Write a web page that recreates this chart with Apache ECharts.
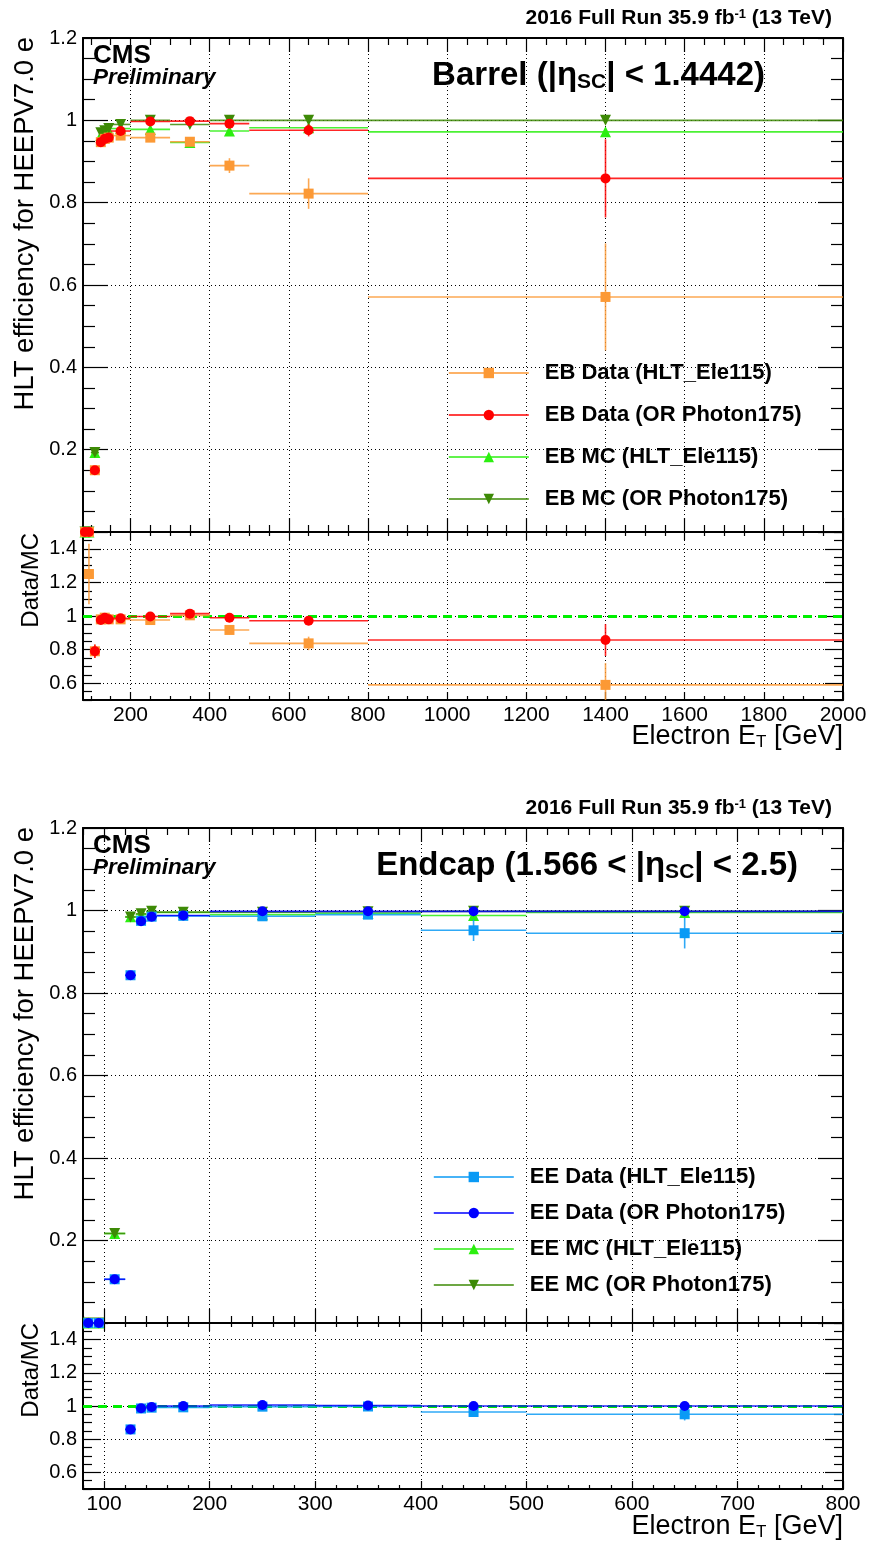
<!DOCTYPE html>
<html>
<head>
<meta charset="utf-8">
<script src="https://cdn.jsdelivr.net/npm/echarts@6/dist/echarts.min.js"></script>
<style>
  html, body { margin: 0; background: #fff; }
  #chart { width: 872px; height: 1541px; }
</style>
</head>
<body>
<div id="chart"></div>
<script>
// ---------------------------------------------------------------------------
// HLT efficiency for HEEP V7.0 electrons, barrel and endcap, data vs MC
// ---------------------------------------------------------------------------

// bin edges (GeV)
const ebLo = [80, 90, 100, 120, 130, 140, 150, 200, 300, 400, 500, 800];
const ebHi = [90, 100, 120, 130, 140, 150, 200, 300, 400, 500, 800, 2000];
const eeLo = [80, 90, 100, 120, 130, 140, 150, 200, 300, 400, 500];
const eeHi = [90, 100, 120, 130, 140, 150, 200, 300, 400, 500, 800];

// barrel efficiencies
const ebDataHlt    = [0, 0, 0.150, 0.947, 0.955, 0.958, 0.963, 0.958, 0.948, 0.890, 0.822, 0.571];
const ebDataHltErr = [0.004, 0.004, 0.010, 0.006, 0.006, 0.006, 0.004, 0.005, 0.008, 0.018, 0.037, 0.130];
const ebDataOr     = [0, 0, 0.150, 0.947, 0.955, 0.958, 0.974, 0.997, 0.998, 0.992, 0.976, 0.859];
const ebDataOrErr  = [0.004, 0.004, 0.010, 0.006, 0.006, 0.006, 0.004, 0.003, 0.004, 0.007, 0.015, 0.095];
const ebMcHlt      = [0, 0, 0.193, 0.963, 0.970, 0.975, 0.980, 0.978, 0.946, 0.974, 0.982, 0.972];
const ebMcHltErr   = [0.003, 0.003, 0.008, 0.004, 0.004, 0.004, 0.003, 0.004, 0.012, 0.006, 0.004, 0.004];
const ebMcOr       = [0, 0, 0.193, 0.970, 0.975, 0.980, 0.990, 1.000, 0.990, 1.000, 1.000, 1.000];
const ebMcOrErr    = [0.003, 0.003, 0.008, 0.004, 0.004, 0.004, 0.003, 0.002, 0.004, 0.002, 0.002, 0.002];

// barrel data/MC
const ebRatioHlt    = [null, 1.25, 0.79, 0.98, 0.99, 0.98, 0.98, 0.976, 1.004, 0.917, 0.837, 0.59];
const ebRatioHltErr = [0, 0.18, 0.04, 0.008, 0.008, 0.008, 0.005, 0.005, 0.010, 0.020, 0.040, 0.130];
const ebRatioOr     = [null, null, 0.79, 0.976, 0.99, 0.98, 0.986, 0.997, 1.014, 0.99, 0.972, 0.857];
const ebRatioOrErr  = [0, 0, 0.04, 0.008, 0.008, 0.008, 0.005, 0.004, 0.006, 0.008, 0.015, 0.095];

// endcap efficiencies
const eeDataHlt    = [0, 0, 0.106, 0.843, 0.975, 0.985, 0.987, 0.986, 0.990, 0.952, 0.945];
const eeDataHltErr = [0.004, 0.004, 0.008, 0.008, 0.006, 0.005, 0.004, 0.005, 0.006, 0.026, 0.037];
const eeDataOr     = [0, 0, 0.106, 0.843, 0.974, 0.985, 0.988, 0.998, 0.998, 0.998, 0.998];
const eeDataOrErr  = [0.004, 0.004, 0.008, 0.008, 0.006, 0.005, 0.004, 0.002, 0.002, 0.002, 0.002];
const eeMcHlt      = [0, 0, 0.217, 0.985, 0.990, 0.997, 0.995, 0.990, 0.993, 0.988, 0.995];
const eeMcHltErr   = [0.003, 0.003, 0.008, 0.004, 0.003, 0.003, 0.002, 0.003, 0.003, 0.004, 0.003];
const eeMcOr       = [0, 0, 0.217, 0.984, 0.992, 0.998, 0.996, 0.996, 0.997, 0.998, 0.998];
const eeMcOrErr    = [0.003, 0.003, 0.008, 0.004, 0.003, 0.002, 0.002, 0.002, 0.002, 0.002, 0.002];

// endcap data/MC
const eeRatioHlt    = [null, null, null, 0.859, 0.985, 0.990, 0.992, 0.996, 0.997, 0.964, 0.950];
const eeRatioHltErr = [0, 0, 0, 0.010, 0.007, 0.006, 0.005, 0.005, 0.006, 0.026, 0.037];
const eeRatioOr     = [null, null, null, 0.859, 0.986, 0.994, 1.000, 1.006, 1.003, 1.000, 1.000];
const eeRatioOrErr  = [0, 0, 0, 0.010, 0.007, 0.006, 0.005, 0.003, 0.003, 0.003, 0.003];

// axis ticks / labels
const ebXMajor = [200, 400, 600, 800, 1000, 1200, 1400, 1600, 1800, 2000];
const eeXMajor = [100, 200, 300, 400, 500, 600, 700, 800];
const effMajor = [0, 0.2, 0.4, 0.6, 0.8, 1, 1.2];
const effLabels = [0.2, 0.4, 0.6, 0.8, 1, 1.2];
const ratioMajor = [0.6, 0.8, 1, 1.2, 1.4];

const names = {
  eb: ['EB Data (HLT_Ele115)', 'EB Data (OR Photon175)', 'EB MC (HLT_Ele115)', 'EB MC (OR Photon175)'],
  ee: ['EE Data (HLT_Ele115)', 'EE Data (OR Photon175)', 'EE MC (HLT_Ele115)', 'EE MC (OR Photon175)'],
};

// ---------------------------------------------------------------------------
const FONT = '"Liberation Sans", Arial, Helvetica, sans-serif';
const DY = 790; // vertical offset of the endcap canvas

const col = {
  orange: '#fc9935',
  red: '#ff0000',
  lime: '#2cef10',
  dkgreen: '#3d8a06',
  azure: '#0a9af5',
  blue: '#0000ff',
};

function ticksBetween(min, max, step, skip) {
  const out = [];
  for (let v = min; v <= max + 1e-9; v += step) {
    const r = Math.round(v * 1000) / 1000;
    if (!skip.some((s) => Math.abs(s - r) < 1e-6)) out.push(r);
  }
  return out;
}

const chart = echarts.init(document.getElementById('chart'));

const grids = [
  { left: 83, right: 29, top: 38, height: 494 },          // barrel efficiency
  { left: 83, right: 29, top: 532, height: 168 },         // barrel ratio
  { left: 83, right: 29, top: 38 + DY, height: 495 },     // endcap efficiency
  { left: 83, right: 29, top: 1323, height: 166 },        // endcap ratio
];

const xAxis = [];
const yAxis = [];

// four axes per side pair: main major (with frame), main minor, opposite major, opposite minor
function addAxes(list, dim, g, min, max, major, minor, majLen, minLen, labels) {
  const pos = dim === 'x' ? ['bottom', 'top'] : ['left', 'right'];
  const base = { type: 'value', gridIndex: g, min, max };
  const labelStyle = {
    show: !!labels,
    customValues: labels || undefined,
    formatter: (v) => String(v),
    color: '#000',
    fontFamily: FONT,
    fontSize: dim === 'x' ? 21 : 20,
    margin: dim === 'x' ? 5 : 6,
  };
  const frameLine = { show: true, onZero: false, lineStyle: { color: '#000', width: 2 } };
  const tick = (len, vals) => ({ show: true, inside: true, length: len, customValues: vals, lineStyle: { color: '#000', width: 1.2 } });
  list.push(
    {
      ...base, position: pos[0], axisLine: frameLine, axisTick: tick(majLen, major), axisLabel: labelStyle,
      splitLine: { show: true, lineStyle: { color: '#000', width: 1, type: [1, 3] } },
    },
    { ...base, position: pos[0], axisLine: { show: false, onZero: false }, axisTick: tick(minLen, minor), axisLabel: { show: false }, splitLine: { show: false } },
    { ...base, position: pos[1], axisLine: frameLine, axisTick: tick(majLen, major), axisLabel: { show: false }, splitLine: { show: false } },
    { ...base, position: pos[1], axisLine: { show: false, onZero: false }, axisTick: tick(minLen, minor), axisLabel: { show: false }, splitLine: { show: false } },
  );
}

addAxes(xAxis, 'x', 0, 80, 2000, ebXMajor, ticksBetween(100, 2000, 50, ebXMajor), 14, 7, null);
addAxes(yAxis, 'y', 0, 0, 1.2, effMajor, ticksBetween(0, 1.2, 0.05, effMajor), 25, 12, effLabels);
addAxes(xAxis, 'x', 1, 80, 2000, ebXMajor, ticksBetween(100, 2000, 50, ebXMajor), 8, 4, ebXMajor);
addAxes(yAxis, 'y', 1, 0.5, 1.5, ratioMajor, ticksBetween(0.5, 1.5, 0.05, ratioMajor), 18, 9, ratioMajor);
addAxes(xAxis, 'x', 2, 80, 800, eeXMajor, ticksBetween(80, 800, 20, eeXMajor), 14, 7, null);
addAxes(yAxis, 'y', 2, 0, 1.2, effMajor, ticksBetween(0, 1.2, 0.05, effMajor), 25, 12, effLabels);
addAxes(xAxis, 'x', 3, 80, 800, eeXMajor, ticksBetween(80, 800, 20, eeXMajor), 8, 4, eeXMajor);
addAxes(yAxis, 'y', 3, 0.5, 1.5, ratioMajor, ticksBetween(0.5, 1.5, 0.05, ratioMajor), 18, 9, ratioMajor);

// horizontal (bin width) + vertical (stat) error bars
function renderErr(params, api) {
  const cs = params.coordSys;
  const cx = (x) => Math.max(cs.x, Math.min(cs.x + cs.width, x));
  const cy = (y) => Math.max(cs.y, Math.min(cs.y + cs.height, y));
  const y = api.value(3);
  const a = api.coord([api.value(0), y]);
  const b = api.coord([api.value(1), y]);
  const lo = api.coord([api.value(2), api.value(4)]);
  const hi = api.coord([api.value(2), api.value(5)]);
  const style = { stroke: api.visual('color'), lineWidth: 1.6, opacity: 0.85 };
  return {
    type: 'group',
    children: [
      { type: 'line', shape: { x1: cx(a[0]), y1: cy(a[1]), x2: cx(b[0]), y2: cy(b[1]) }, style },
      { type: 'line', shape: { x1: cx(lo[0]), y1: cy(lo[1]), x2: cx(hi[0]), y2: cy(hi[1]) }, style },
    ],
  };
}

const series = [];

function addSet(g, lo, hi, vals, errs, name, color, symbol, size, rotate, z) {
  const errData = [];
  const ptData = [];
  vals.forEach((v, i) => {
    if (v == null) return;
    const c = (lo[i] + hi[i]) / 2;
    errData.push([lo[i], hi[i], c, v, v - errs[i], v + errs[i]]);
    ptData.push([c, v]);
  });
  const ax = { xAxisIndex: 4 * g, yAxisIndex: 4 * g };
  series.push({
    type: 'custom', ...ax, z, silent: true, renderItem: renderErr,
    itemStyle: { color }, encode: { x: [0, 1], y: 3 }, data: errData,
  });
  const s = {
    type: 'line', ...ax, z: z + 1, name, silent: true, data: ptData,
    symbol, symbolSize: size, symbolRotate: rotate, showSymbol: true,
    itemStyle: { color, opacity: 1 }, lineStyle: { color, width: 0 },
  };
  series.push(s);
  return s;
}

// barrel
addSet(0, ebLo, ebHi, ebMcHlt, ebMcHltErr, names.eb[2], col.lime, 'triangle', 11, 0, 2);
addSet(0, ebLo, ebHi, ebMcOr, ebMcOrErr, names.eb[3], col.dkgreen, 'triangle', 11, 180, 4);
addSet(0, ebLo, ebHi, ebDataHlt, ebDataHltErr, names.eb[0], col.orange, 'rect', 10, 0, 6);
addSet(0, ebLo, ebHi, ebDataOr, ebDataOrErr, names.eb[1], col.red, 'circle', 10, 0, 8);
const ebRatioBase = addSet(1, ebLo, ebHi, ebRatioHlt, ebRatioHltErr, 'ebRatioHlt', col.orange, 'rect', 10, 0, 6);
addSet(1, ebLo, ebHi, ebRatioOr, ebRatioOrErr, 'ebRatioOr', col.red, 'circle', 10, 0, 8);

// endcap
addSet(2, eeLo, eeHi, eeMcHlt, eeMcHltErr, names.ee[2], col.lime, 'triangle', 11, 0, 2);
addSet(2, eeLo, eeHi, eeMcOr, eeMcOrErr, names.ee[3], col.dkgreen, 'triangle', 11, 180, 4);
addSet(2, eeLo, eeHi, eeDataHlt, eeDataHltErr, names.ee[0], col.azure, 'rect', 10, 0, 6);
addSet(2, eeLo, eeHi, eeDataOr, eeDataOrErr, names.ee[1], col.blue, 'circle', 10, 0, 8);
const eeRatioBase = addSet(3, eeLo, eeHi, eeRatioHlt, eeRatioHltErr, 'eeRatioHlt', col.azure, 'rect', 10, 0, 6);
addSet(3, eeLo, eeHi, eeRatioOr, eeRatioOrErr, 'eeRatioOr', col.blue, 'circle', 10, 0, 8);

// unity line in the ratio pads
[ebRatioBase, eeRatioBase].forEach((s) => {
  s.markLine = {
    silent: true, symbol: 'none', label: { show: false }, animation: false,
    lineStyle: { color: '#00f000', width: 3, type: [9, 6] },
    data: [{ yAxis: 1 }],
  };
});

function legendFor(list, left, top, gap) {
  return {
    data: list, orient: 'vertical', left, top, padding: 0,
    itemWidth: 80, itemHeight: 13, itemGap: gap,
    selectedMode: false,
    lineStyle: { width: 1.6, opacity: 1 },
    textStyle: { fontFamily: FONT, fontWeight: 'bold', fontSize: 22, color: '#000', padding: [0, 0, 0, 11] },
  };
}

function headerTexts(dy, title) {
  return [
    {
      type: 'text', x: 832, y: 18 + dy,
      style: {
        text: '{a|2016 Full Run 35.9 fb}{s|-1}{a| (13 TeV)}', align: 'right', verticalAlign: 'middle',
        rich: {
          a: { fontFamily: FONT, fontWeight: 'bold', fontSize: 21, fill: '#000' },
          s: { fontFamily: FONT, fontWeight: 'bold', fontSize: 13, fill: '#000', verticalAlign: 'top' },
        },
      },
    },
    {
      type: 'text', x: 93, y: 56 + dy,
      style: { text: 'CMS', font: `bold 26px ${FONT}`, fill: '#000', verticalAlign: 'middle' },
    },
    {
      type: 'text', x: 93, y: 78 + dy,
      style: { text: 'Preliminary', font: `italic bold 22.5px ${FONT}`, fill: '#000', verticalAlign: 'middle' },
    },
    {
      type: 'text', x: title.x, y: title.y + dy,
      style: {
        text: title.text, align: 'right', verticalAlign: 'middle',
        rich: {
          t: { fontFamily: FONT, fontWeight: 'bold', fontSize: 33, fill: '#000' },
          s: { fontFamily: FONT, fontWeight: 'bold', fontSize: 21, fill: '#000', verticalAlign: 'bottom' },
        },
      },
    },
    {
      type: 'text', x: 25, y: 37 + dy, rotation: Math.PI / 2,
      style: { text: 'HLT efficiency for HEEPV7.0 e', font: `27.5px ${FONT}`, fill: '#000', align: 'right', verticalAlign: 'middle' },
    },
    {
      type: 'text', x: 31, y: 533 + dy, rotation: Math.PI / 2,
      style: { text: 'Data/MC', font: `24px ${FONT}`, fill: '#000', align: 'right', verticalAlign: 'middle' },
    },
    {
      type: 'text', x: 843, y: 737 + dy,
      style: {
        text: '{a|Electron E}{s|T}{a| [GeV]}', align: 'right', verticalAlign: 'middle',
        rich: {
          a: { fontFamily: FONT, fontSize: 27, fill: '#000' },
          s: { fontFamily: FONT, fontSize: 17, fill: '#000', verticalAlign: 'bottom' },
        },
      },
    },
  ];
}

chart.setOption({
  animation: false,
  backgroundColor: '#fff',
  grid: grids,
  xAxis,
  yAxis,
  legend: [
    legendFor(names.eb, 448, 362, 20),
    legendFor(names.ee, 433, 1166, 14),
  ],
  graphic: [
    ...headerTexts(0, { x: 765, y: 76, text: '{t|Barrel (|η}{s|SC}{t|| < 1.4442)}' }),
    ...headerTexts(DY, { x: 798, y: 76, text: '{t|Endcap (1.566 < |η}{s|SC}{t|| < 2.5)}' }),
  ],
  series,
});
</script>
</body>
</html>
